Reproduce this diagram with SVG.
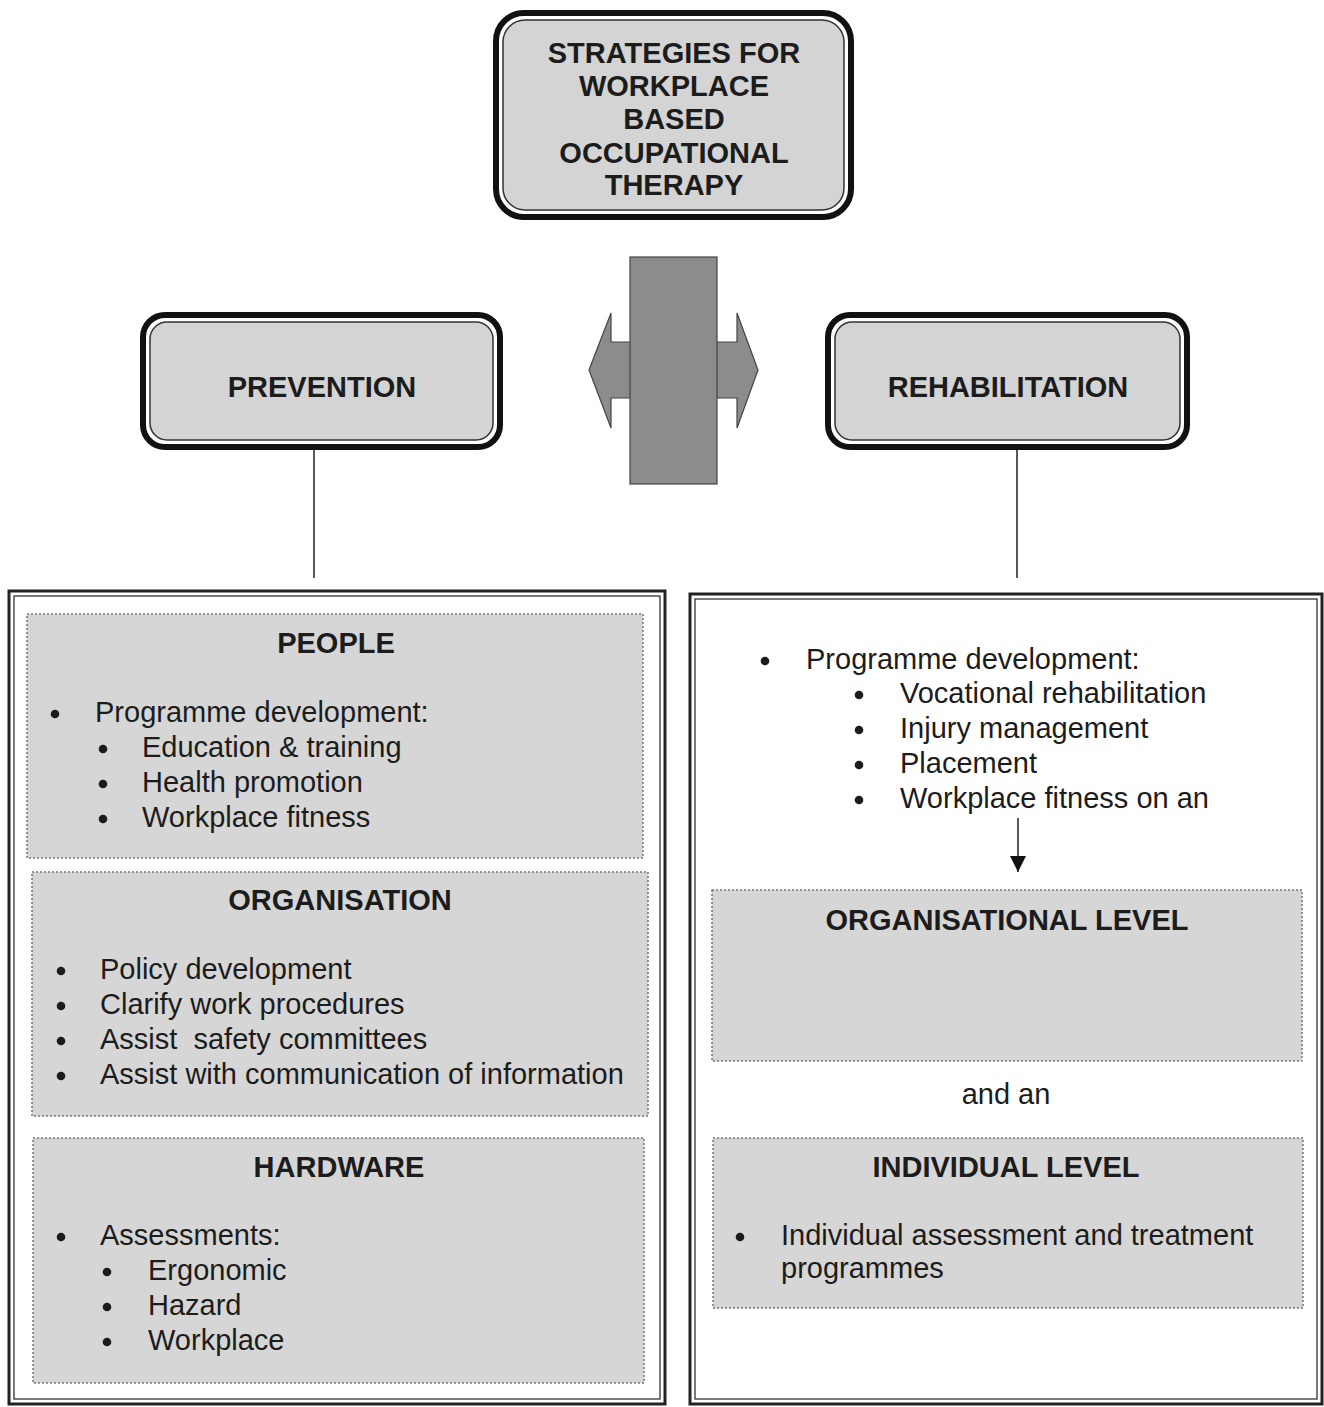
<svg xmlns="http://www.w3.org/2000/svg" width="1324" height="1407" viewBox="0 0 1324 1407">
<style>
.t{font-family:"Liberation Sans",Arial,sans-serif;font-size:29px;fill:#1c1c1c}
.b{font-weight:bold}
.c{text-anchor:middle}
.outerR{fill:#fff;stroke:#111;stroke-width:6}
.innerR{fill:#d4d4d4;stroke:#333;stroke-width:1.5}
.frameO{fill:none;stroke:#222;stroke-width:3}
.frameI{fill:none;stroke:#333;stroke-width:1.3}
.dot{fill:#d6d6d6;stroke:#777;stroke-width:1.5;stroke-dasharray:2 2}
.bul{fill:#1c1c1c}
.conn{stroke:#222;stroke-width:1.5;fill:none}
</style>
<defs>
<marker id="ah" markerWidth="16" markerHeight="20" refX="16" refY="8" orient="auto" markerUnits="userSpaceOnUse" viewBox="0 0 16 16">
<path d="M0,0 L16,8 L0,16 z" fill="#111"/>
</marker>
</defs>
<rect width="1324" height="1407" fill="#fff"/>

<g id="left-frame">
<rect class="frameO" x="9" y="591" width="656" height="813"/>
<rect class="frameI" x="14" y="596" width="646" height="803"/>
</g>

<g id="right-frame">
<rect class="frameO" x="690" y="594" width="632" height="810"/>
<rect class="frameI" x="695" y="599" width="622" height="800"/>
</g>

<g id="connectors">
<line class="conn" x1="314" y1="450" x2="314" y2="578"/>
<line class="conn" x1="1017" y1="450" x2="1017" y2="578"/>
<g id="cross">
<path d="M611,313 L589,370 L611,428 L611,398 L737,398 L737,428 L758,370 L737,313 L737,342 L611,342 Z" fill="#8c8c8c" stroke="#444" stroke-width="1.2"/>
<rect x="630" y="257" width="87" height="227" fill="#8c8c8c" stroke="#444" stroke-width="1.2"/>
</g>
<line x1="1018" y1="818" x2="1018" y2="872" stroke="#222" stroke-width="1.5" marker-end="url(#ah)"/>
</g>

<g id="top">
<rect class="outerR" x="496" y="13" width="355" height="204" rx="28"/>
<rect class="innerR" x="503" y="20" width="341" height="190" rx="22"/>
<text class="t b c" x="674" y="63">STRATEGIES FOR</text>
<text class="t b c" x="674" y="96">WORKPLACE</text>
<text class="t b c" x="674" y="129">BASED</text>
<text class="t b c" x="674" y="163">OCCUPATIONAL</text>
<text class="t b c" x="674" y="195">THERAPY</text>
</g>

<g id="prevention">
<rect class="outerR" x="143" y="315" width="357" height="132" rx="22"/>
<rect class="innerR" x="150" y="322" width="343" height="118" rx="17"/>
<text class="t b c" x="322" y="397">PREVENTION</text>
</g>

<g id="rehabilitation">
<rect class="outerR" x="828" y="315" width="359" height="132" rx="22"/>
<rect class="innerR" x="835" y="322" width="345" height="118" rx="17"/>
<text class="t b c" x="1008" y="397">REHABILITATION</text>
</g>

<g id="people">
<rect class="dot" x="27" y="614" width="616" height="244"/>
<text class="t b c" x="336" y="653">PEOPLE</text>
<circle class="bul" cx="55" cy="714" r="4.3"/>
<text class="t" x="95" y="722">Programme development:</text>
<circle class="bul" cx="103" cy="749" r="4.3"/>
<text class="t" x="142" y="757">Education &amp; training</text>
<circle class="bul" cx="103" cy="784" r="4.3"/>
<text class="t" x="142" y="792">Health promotion</text>
<circle class="bul" cx="103" cy="819" r="4.3"/>
<text class="t" x="142" y="827" fill="#333">Workplace fitness</text>
</g>

<g id="organisation">
<rect class="dot" x="32" y="872" width="616" height="244"/>
<text class="t b c" x="340" y="910">ORGANISATION</text>
<circle class="bul" cx="61" cy="971" r="4.3"/>
<text class="t" x="100" y="979">Policy development</text>
<circle class="bul" cx="61" cy="1006" r="4.3"/>
<text class="t" x="100" y="1014">Clarify work procedures</text>
<circle class="bul" cx="61" cy="1041" r="4.3"/>
<text class="t" x="100" y="1049" xml:space="preserve">Assist  safety committees</text>
<circle class="bul" cx="61" cy="1076" r="4.3"/>
<text class="t" x="100" y="1084">Assist with communication of information</text>
</g>

<g id="hardware">
<rect class="dot" x="33" y="1138" width="611" height="245"/>
<text class="t b c" x="339" y="1177">HARDWARE</text>
<circle class="bul" cx="61" cy="1237" r="4.3"/>
<text class="t" x="100" y="1245">Assessments:</text>
<circle class="bul" cx="107" cy="1272" r="4.3"/>
<text class="t" x="148" y="1280">Ergonomic</text>
<circle class="bul" cx="107" cy="1307" r="4.3"/>
<text class="t" x="148" y="1315">Hazard</text>
<circle class="bul" cx="107" cy="1342" r="4.3"/>
<text class="t" x="148" y="1350">Workplace</text>
</g>

<g id="rehab-programmes">
<circle class="bul" cx="765" cy="661" r="4.3"/>
<text class="t" x="806" y="669">Programme development:</text>
<circle class="bul" cx="859" cy="695" r="4.3"/>
<text class="t" x="900" y="703">Vocational rehabilitation</text>
<circle class="bul" cx="859" cy="730" r="4.3"/>
<text class="t" x="900" y="738">Injury management</text>
<circle class="bul" cx="859" cy="765" r="4.3"/>
<text class="t" x="900" y="773">Placement</text>
<circle class="bul" cx="859" cy="800" r="4.3"/>
<text class="t" x="900" y="808">Workplace fitness on an</text>
</g>

<g id="organisational-level">
<rect class="dot" x="712" y="890" width="590" height="171"/>
<text class="t b c" x="1007" y="930">ORGANISATIONAL LEVEL</text>
</g>

<g id="and-an">
<text class="t c" x="1006" y="1104">and an</text>
</g>

<g id="individual-level">
<rect class="dot" x="713" y="1138" width="590" height="170"/>
<text class="t b c" x="1006" y="1177">INDIVIDUAL LEVEL</text>
<circle class="bul" cx="740" cy="1237" r="4.3"/>
<text class="t" x="781" y="1245">Individual assessment and treatment</text>
<text class="t" x="781" y="1278">programmes</text>
</g>
</svg>
